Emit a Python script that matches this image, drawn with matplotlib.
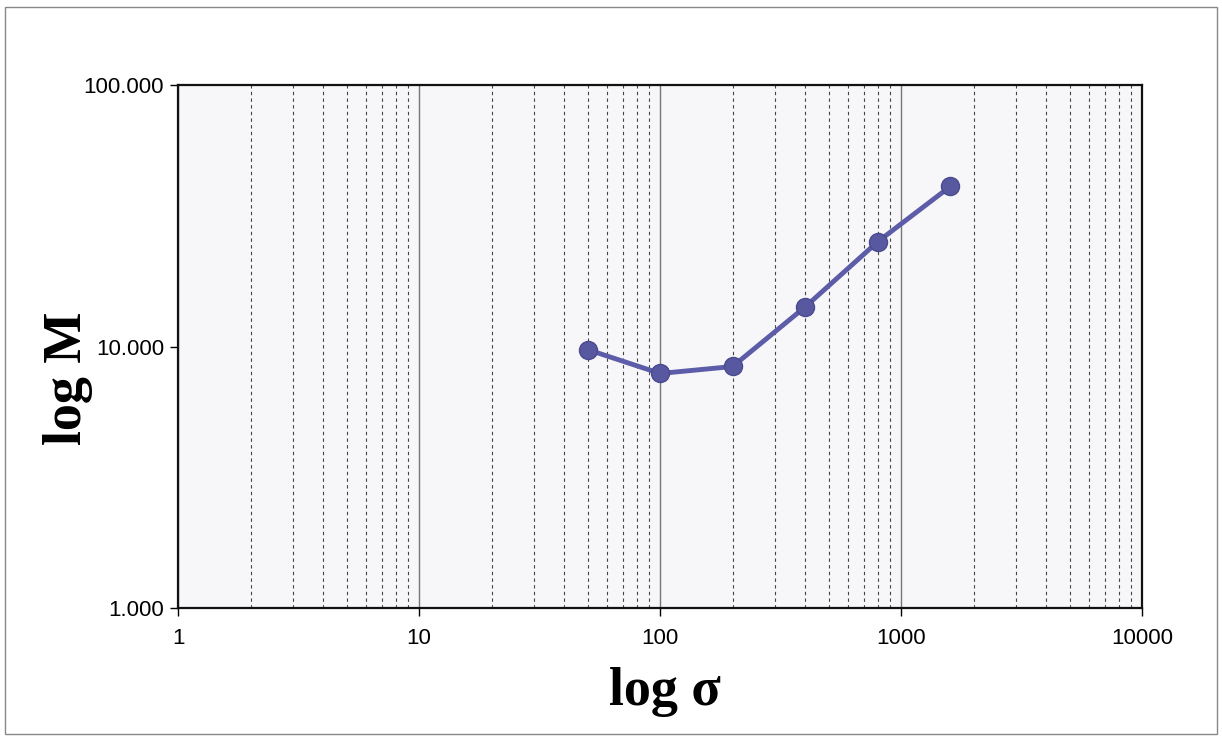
import numpy as np
import matplotlib.pyplot as plt
from matplotlib.ticker import FixedLocator, FuncFormatter, NullLocator
from matplotlib.patches import Rectangle

# data
sigma = [50, 100, 200, 400, 800, 1600]
M = [9.75, 7.9, 8.4, 14.2, 25.2, 41.0]

x_ticks = [1, 10, 100, 1000, 10000]
y_ticks = [1, 10, 100]

fig = plt.figure(figsize=(12.22, 7.40), dpi=100)
fig.patches.append(Rectangle((0.004, 0.008), 0.992, 0.982, transform=fig.transFigure,
                             fill=False, edgecolor='#888888', linewidth=1.0))

ax = fig.add_axes([0.1457, 0.178, 0.789, 0.707])
ax.set_xscale('log')
ax.set_yscale('log')
ax.set_xlim(1, 10000)
ax.set_ylim(1, 100)
ax.set_facecolor('#f7f7fa')

ax.xaxis.set_major_locator(FixedLocator(x_ticks))
ax.xaxis.set_major_formatter(FuncFormatter(lambda v, p: '%d' % v))
minors = [m * 10**d for d in range(4) for m in range(2, 10)]
ax.xaxis.set_minor_locator(FixedLocator(minors))
ax.yaxis.set_major_locator(FixedLocator(y_ticks))
ax.yaxis.set_major_formatter(FuncFormatter(lambda v, p: '%.3f' % v))
ax.yaxis.set_minor_locator(NullLocator())

ax.grid(True, which='major', axis='x', color='#777777', linewidth=1.0)
ax.grid(True, which='minor', axis='x', color='#444444', linewidth=0.8, linestyle=(0, (3, 3)))
ax.set_axisbelow(True)

ax.tick_params(axis='both', which='major', labelsize=16, length=6, direction='out', width=1)
ax.tick_params(axis='x', which='minor', length=0)
ax.tick_params(axis='x', pad=8)
ax.tick_params(axis='y', pad=4)
for lab in ax.get_xticklabels() + ax.get_yticklabels():
    lab.set_family('Liberation Sans')
for s in ax.spines.values():
    s.set_linewidth(1.6)
    s.set_color('#111111')

ax.plot(sigma, M, color='#5c5ca8', linewidth=3.5, marker='o', markersize=13,
        markerfacecolor='#5858a0', markeredgecolor='#4a4a90', zorder=5)

ax.set_xlabel('log σ', family='Liberation Serif', fontweight='bold', fontsize=39)
ax.set_ylabel('log M', family='Liberation Serif', fontweight='bold', fontsize=39)
ax.xaxis.set_label_coords(0.505, -0.113)
ax.yaxis.set_label_coords(-0.088, 0.44)

fig.savefig('out.png', dpi=100)
